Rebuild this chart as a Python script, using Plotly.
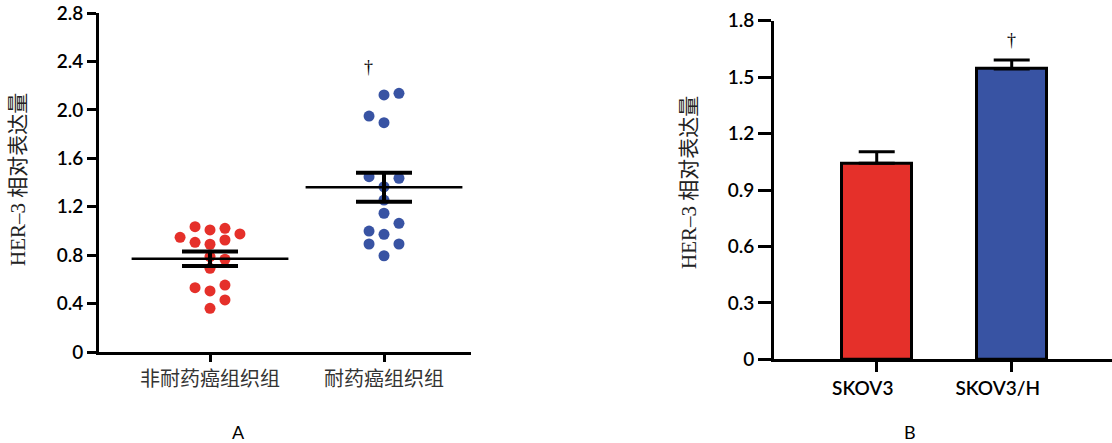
import plotly.graph_objects as go

# ---- Panel A: individual tissue samples ----
groups_a = ["非耐药癌组织组", "耐药癌组织组"]

non_resistant = [0.947, 1.035, 1.008, 1.022, 0.975, 0.906, 0.890, 0.925,
                 0.787, 0.766, 0.691, 0.531, 0.504, 0.553, 0.430, 0.361]
non_resistant_slot = [-2, -1, 0, 1, 2, -1, 0, 1, 0, 1, 0, -1, 0, 1, 1, 0]

resistant = [2.123, 2.137, 1.949, 1.894, 1.448, 1.435, 1.365, 1.255,
             1.146, 1.063, 0.999, 0.972, 0.892, 0.892, 0.795]
resistant_slot = [0, 1, -1, 0, -1, 1, 0, 0, 0, 1, -1, 0, -1, 1, 0]

group_mean_a = [0.77, 1.36]
group_sem_a = [0.06, 0.12]

yticks_a = [0, 0.4, 0.8, 1.2, 1.6, 2.0, 2.4, 2.8]
yticktext_a = ["0", "0.4", "0.8", "1.2", "1.6", "2.0", "2.4", "2.8"]

# ---- Panel B: cell lines ----
cells_b = ["SKOV3", "SKOV3/H"]
expr_b = [1.042, 1.543]
err_b = [0.062, 0.048]

yticks_b = [0, 0.3, 0.6, 0.9, 1.2, 1.5, 1.8]
yticktext_b = ["0", "0.3", "0.6", "0.9", "1.2", "1.5", "1.8"]

RED = "#E5302A"
BLUE = "#3853A3"
W, H = 1112, 443
SLOT = 0.086  # horizontal spacing between dot columns

def px_x(p):
    return p / W

def px_y(p):
    return (H - p) / H

tick_font = dict(family="Lato, Open Sans, sans-serif", size=19, color="black", weight=600)
cjk_font = dict(family="Noto Sans CJK SC", size=20, color="#333")
title_font = dict(family="Liberation Serif, Noto Sans CJK SC, serif", size=21, color="#222")

fig = go.Figure()

for gi, (vals, slots, col) in enumerate([(non_resistant, non_resistant_slot, RED),
                                          (resistant, resistant_slot, BLUE)]):
    fig.add_trace(go.Scatter(
        x=[gi + s * SLOT for s in slots], y=vals, mode="markers",
        marker=dict(symbol="circle", size=11, color=col, line=dict(width=0)),
        xaxis="x", yaxis="y", hoverinfo="y"))

# mean line with SEM bars
fig.add_trace(go.Scatter(
    x=[0, 1], y=group_mean_a, mode="markers",
    marker=dict(symbol="line-ew", size=112, color="black",
                line=dict(width=2.5, color="black")),
    error_y=dict(type="data", array=group_sem_a, visible=True,
                 width=28, thickness=4, color="black"),
    xaxis="x", yaxis="y"))

fig.add_trace(go.Bar(
    x=[0, 1], y=expr_b, width=0.52,
    marker=dict(color=[RED, BLUE], line=dict(color="black", width=3)),
    error_y=dict(type="data", symmetric=False, array=err_b, arrayminus=[0, 0],
                 visible=True, width=18, thickness=3, color="black"),
    xaxis="x2", yaxis="y2"))

axis_common = dict(showgrid=False, zeroline=False, showline=True,
                   linecolor="black", linewidth=3, ticks="outside",
                   tickcolor="black", tickwidth=3, fixedrange=True)

fig.update_layout(
    width=W, height=H,
    margin=dict(l=0, r=0, t=0, b=0, autoexpand=False),
    paper_bgcolor="white", plot_bgcolor="white",
    showlegend=False, bargap=0,
    xaxis=dict(axis_common, domain=[px_x(99), px_x(471)], range=[-0.638, 1.5],
               tickvals=[0, 1], ticktext=groups_a, ticklen=7,
               tickfont=cjk_font, anchor="y", automargin=False),
    yaxis=dict(axis_common, domain=[px_y(352), px_y(13)], range=[0, 2.8],
               tickvals=yticks_a, ticktext=yticktext_a, ticklen=9,
               tickfont=tick_font, anchor="x", automargin=False),
    xaxis2=dict(axis_common, domain=[px_x(774), 1.0], range=[-0.761, 1.743],
                tickvals=[0, 1], ticktext=cells_b, ticklen=10,
                tickfont=tick_font, anchor="y2", automargin=False,
                ticklabelshift=-14),
    yaxis2=dict(axis_common, domain=[px_y(359.3), px_y(20.7)], range=[0, 1.8],
                tickvals=yticks_b, ticktext=yticktext_b, ticklen=13,
                tickfont=tick_font, anchor="x2", automargin=False),
)

annotations = [
    dict(text="HER–3 相对表达量", x=px_x(18), y=px_y(180), textangle=-90,
         font=title_font),
    dict(text="HER–3 相对表达量", x=px_x(689), y=px_y(183), textangle=-90,
         font=title_font),
    dict(text="A", x=px_x(238), y=px_y(432), font=dict(tick_font, size=18, weight=400)),
    dict(text="B", x=px_x(910), y=px_y(432), font=dict(tick_font, size=18, weight=400)),
    dict(text="†", x=1 - 0.09, y=2.35, xref="x", yref="y",
         font=dict(family="Liberation Serif", size=18, color="black")),
    dict(text="†", x=1, y=1.70, xref="x2", yref="y2",
         font=dict(family="Liberation Serif", size=18, color="black")),
]
for a in annotations:
    a.setdefault("xref", "paper")
    a.setdefault("yref", "paper")
    a["showarrow"] = False
    a.setdefault("xanchor", "center")
    a.setdefault("yanchor", "middle")
fig.update_layout(annotations=annotations)

fig.write_html("out.html")
